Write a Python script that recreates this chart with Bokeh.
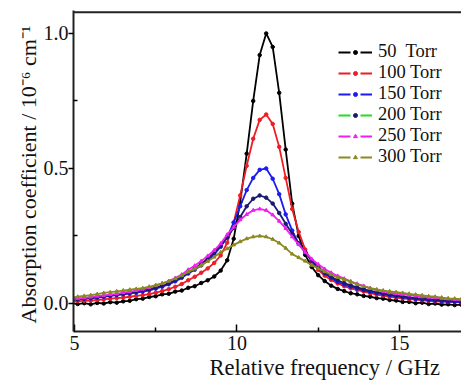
from bokeh.plotting import figure
from bokeh.models import (Range1d, FixedTicker, Legend, LegendItem, Title,
                          PrintfTickFormatter, ColumnDataSource)
from bokeh.embed import file_html
from bokeh.resources import INLINE

# Relative frequency (GHz)
freq = [4.9,
        5.1, 5.3, 5.5, 5.7, 5.9,
        6.1, 6.3, 6.5, 6.7, 6.9,
        7.1, 7.3, 7.5, 7.7, 7.9,
        8.1, 8.3, 8.5, 8.7, 8.9,
        9.1, 9.3, 9.5, 9.7, 9.9,
        10.1, 10.3, 10.5, 10.7, 10.9,
        11.1, 11.3, 11.5, 11.7, 11.9,
        12.1, 12.3, 12.5, 12.7, 12.9,
        13.1, 13.3, 13.5, 13.7, 13.9,
        14.1, 14.3, 14.5, 14.7, 14.9,
        15.1, 15.3, 15.5, 15.7, 15.9,
        16.1, 16.3, 16.5, 16.7, 16.9,
        17.1]

# Absorption coefficient (1e-6 cm^-1)
a50 = [0.002,
       -0.002, 0.001, -0.003, 0.002, 0.000,
       0.005, 0.003, 0.008, 0.010, 0.016,
       0.018, 0.024, 0.027, 0.034, 0.036,
       0.044, 0.048, 0.058, 0.064, 0.076,
       0.086, 0.100, 0.122, 0.160, 0.240,
       0.375, 0.555, 0.750, 0.920, 1.000,
       0.950, 0.780, 0.570, 0.370, 0.250,
       0.180, 0.135, 0.105, 0.083, 0.066,
       0.054, 0.046, 0.038, 0.034, 0.028,
       0.025, 0.020, 0.018, 0.013, 0.011,
       0.006, 0.006, 0.001, 0.003, -0.002,
       0.000, -0.004, -0.003, -0.006, -0.004,
       -0.005]
a100 = [0.007,
        0.009, 0.010, 0.011, 0.013, 0.015,
        0.018, 0.020, 0.022, 0.025, 0.028,
        0.031, 0.035, 0.040, 0.046, 0.053,
        0.062, 0.072, 0.086, 0.099, 0.114,
        0.130, 0.150, 0.178, 0.225, 0.300,
        0.400, 0.510, 0.610, 0.680, 0.700,
        0.665, 0.580, 0.465, 0.350, 0.265,
        0.200, 0.155, 0.125, 0.103, 0.087,
        0.074, 0.064, 0.056, 0.050, 0.044,
        0.038, 0.033, 0.029, 0.025, 0.022,
        0.019, 0.016, 0.014, 0.012, 0.010,
        0.008, 0.007, 0.006, 0.005, 0.004,
        0.003]
a150 = [0.013,
        0.015, 0.017, 0.019, 0.022, 0.025,
        0.028, 0.031, 0.034, 0.037, 0.040,
        0.044, 0.049, 0.055, 0.062, 0.071,
        0.082, 0.095, 0.111, 0.125, 0.141,
        0.160, 0.182, 0.210, 0.245, 0.300,
        0.360, 0.420, 0.465, 0.495, 0.500,
        0.462, 0.405, 0.330, 0.270, 0.222,
        0.190, 0.158, 0.132, 0.111, 0.094,
        0.080, 0.070, 0.062, 0.055, 0.049,
        0.043, 0.038, 0.034, 0.030, 0.026,
        0.023, 0.020, 0.017, 0.015, 0.013,
        0.011, 0.009, 0.007, 0.006, 0.005,
        0.004]
a200 = [0.014,
        0.016, 0.018, 0.021, 0.024, 0.027,
        0.030, 0.033, 0.036, 0.040, 0.044,
        0.048, 0.053, 0.059, 0.066, 0.075,
        0.086, 0.099, 0.115, 0.130, 0.147,
        0.166, 0.188, 0.214, 0.245, 0.280,
        0.320, 0.360, 0.388, 0.400, 0.392,
        0.370, 0.335, 0.295, 0.258, 0.222,
        0.190, 0.160, 0.135, 0.115, 0.099,
        0.086, 0.076, 0.067, 0.060, 0.053,
        0.047, 0.042, 0.037, 0.033, 0.029,
        0.026, 0.023, 0.020, 0.018, 0.016,
        0.014, 0.012, 0.010, 0.009, 0.008,
        0.007]
a250 = [0.017,
        0.019, 0.021, 0.024, 0.027, 0.030,
        0.033, 0.036, 0.040, 0.044, 0.048,
        0.053, 0.059, 0.066, 0.074, 0.083,
        0.094, 0.107, 0.125, 0.140, 0.157,
        0.176, 0.197, 0.222, 0.255, 0.283,
        0.310, 0.330, 0.345, 0.350, 0.345,
        0.328, 0.305, 0.278, 0.247, 0.218,
        0.190, 0.165, 0.145, 0.128, 0.114,
        0.102, 0.092, 0.082, 0.073, 0.065,
        0.056, 0.050, 0.045, 0.040, 0.037,
        0.034, 0.031, 0.028, 0.025, 0.023,
        0.021, 0.019, 0.017, 0.015, 0.014,
        0.013]
a300 = [0.022,
        0.025, 0.028, 0.031, 0.035, 0.039,
        0.042, 0.045, 0.048, 0.051, 0.054,
        0.057, 0.062, 0.068, 0.075, 0.083,
        0.092, 0.103, 0.117, 0.128, 0.142,
        0.156, 0.172, 0.190, 0.203, 0.217,
        0.229, 0.240, 0.247, 0.250, 0.247,
        0.238, 0.224, 0.205, 0.183, 0.170,
        0.157, 0.142, 0.130, 0.118, 0.107,
        0.097, 0.089, 0.080, 0.071, 0.063,
        0.057, 0.052, 0.048, 0.045, 0.042,
        0.039, 0.036, 0.033, 0.030, 0.027,
        0.025, 0.022, 0.019, 0.018, 0.016,
        0.015]

labels = ["50  Torr", "100 Torr", "150 Torr", "200 Torr", "250 Torr", "300 Torr"]
values = [a50, a100, a150, a200, a250, a300]
line_colors = ["#000000", "#ee1c24", "#1c1cf0", "#1a1a70", "#f020f0", "#8a8a20"]
legend_line_colors = ["#000000", "#ee1c24", "#1c1cf0", "#22dd22", "#f020f0", "#8a8a20"]
marker_colors = ["#000000", "#ee1c24", "#1c1cf0", "#1a1a70", "#f020f0", "#8a8a20"]
markers = ["circle", "circle", "circle", "circle", "triangle", "triangle"]

x_tick_values = [5, 10, 15]
x_minor_values = [7.5, 12.5]
y_tick_values = [0.0, 0.5, 1.0]
y_minor_values = [0.25, 0.75]

x_title = "Relative frequency / GHz"
y_title = "Absorption coefficient / 10\u207b\u2076 cm\u207b\u00b9"

FONT = "Liberation Serif"
X0, X1 = 4.97, 16.91
Y0, Y1 = -0.1037, 1.085

p = figure(width=461, height=381, output_backend="svg", toolbar_location=None,
           x_range=Range1d(X0, X1), y_range=Range1d(Y0, Y1),
           min_border_left=73, min_border_right=0, min_border_top=10,
           min_border_bottom=50)
p.outline_line_color = None
p.xgrid.visible = False
p.ygrid.visible = False
p.background_fill_color = "white"
p.border_fill_color = "white"

xa = p.xaxis[0]
xa.ticker = FixedTicker(ticks=x_tick_values, minor_ticks=x_minor_values)
xa.major_tick_in = 7
xa.major_tick_out = 0
xa.minor_tick_in = 4
xa.minor_tick_out = 0
xa.axis_line_width = 2
xa.axis_line_color = "#222222"
xa.major_tick_line_width = 1.5
xa.minor_tick_line_width = 1.5
xa.major_label_standoff = 4
xa.major_label_text_font = FONT
xa.major_label_text_font_size = "20px"
xa.major_label_text_color = "#111111"

ya = p.yaxis[0]
ya.ticker = FixedTicker(ticks=y_tick_values, minor_ticks=y_minor_values)
ya.formatter = PrintfTickFormatter(format="%.1f")
ya.major_tick_in = 0
ya.major_tick_out = 5
ya.minor_tick_in = 4
ya.minor_tick_out = 0
ya.axis_line_width = 2
ya.axis_line_color = "#222222"
ya.major_tick_line_width = 1.5
ya.minor_tick_line_width = 1.5
ya.major_label_standoff = 0
ya.major_label_text_font = FONT
ya.major_label_text_font_size = "20px"
ya.major_label_text_color = "#111111"

# top frame border drawn as an ordinary line glyph spanning the x range
border_y = Y1 - 0.0065
p.line(x=[X0 - 1.0, X1 + 1.0], y=[border_y, border_y], line_color="#222222",
       line_width=2.2)

# axis titles, offset like the original (its frame continues past the right crop)
p.add_layout(Title(text=x_title, align="left", offset=136, standoff=0,
                   text_font=FONT, text_font_size="22.5px", text_font_style="normal",
                   text_color="#111111"), "below")
p.add_layout(Title(text=y_title, align="left", offset=8, standoff=0,
                   text_font=FONT, text_font_size="22px", text_font_style="normal",
                   text_color="#111111"), "left")

items = []
off_x = [-10.0, -9.0]
off_y = [-10.0, -10.0]
for lab, ys, lc, llc, mc, mk in zip(labels, values, line_colors, legend_line_colors,
                                     marker_colors, markers):
    src = ColumnDataSource(dict(x=freq, y=ys))
    p.line("x", "y", source=src, line_color=lc, line_width=1.8)
    p.scatter("x", "y", source=src, marker=mk, size=3.5, color=mc)
    lr = p.line(x=off_x, y=off_y, line_color=llc, line_width=1.8, line_dash="12 10")
    sr = p.scatter(x=off_x, y=off_y, marker=mk, color=mc)
    items.append(LegendItem(label=lab, renderers=[lr, sr]))

legend = Legend(items=items, location=(265, 164), glyph_width=34, glyph_height=10,
                label_height=21, spacing=0, padding=0, margin=0, label_standoff=6,
                border_line_color=None, background_fill_alpha=0,
                label_text_font=FONT, label_text_font_size="18.5px",
                label_text_color="#111111")
p.add_layout(legend)

open("out.html", "w").write(file_html(p, INLINE))
